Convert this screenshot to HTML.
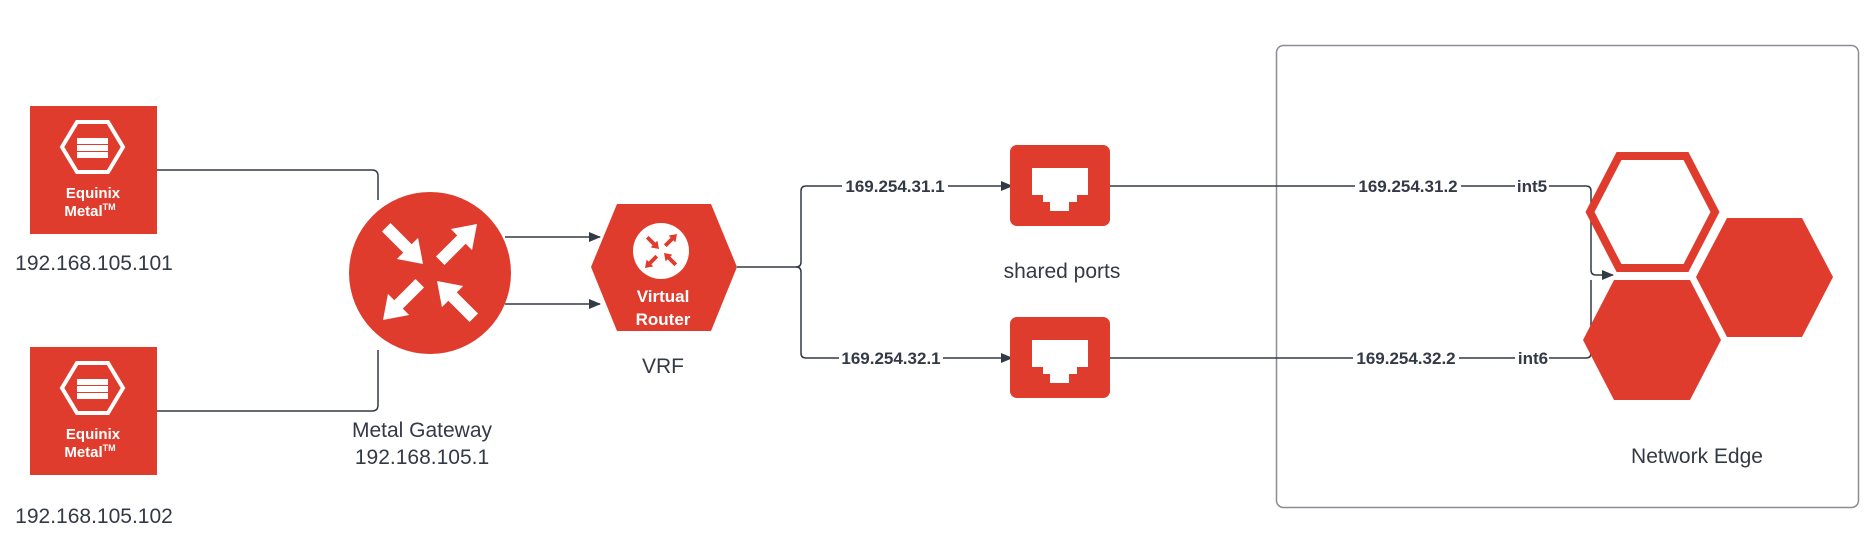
<!DOCTYPE html>
<html><head><meta charset="utf-8"><style>
html,body{margin:0;padding:0;background:#fff;}
svg{display:block;}
text{font-family:"Liberation Sans",Arial,sans-serif;}
</style></head><body>
<svg width="1871" height="550" viewBox="0 0 1871 550" xmlns="http://www.w3.org/2000/svg">
<defs>
<marker id="ah" markerWidth="12" markerHeight="10" refX="11" refY="5" orient="auto" markerUnits="userSpaceOnUse">
<path d="M0,0 L12,5 L0,10 Z" fill="#333a45"/>
</marker>
<g id="arr"><polygon points="-52,-6 -22,-6 -22,-15 0,0 -22,15 -22,6 -52,6" fill="#fff"/></g>
<g id="port">
<rect x="0" y="0" width="100" height="81" rx="7" fill="#e03c2d"/>
<path d="M22,23 H78 V50 H67 V57 H59 V66 H40 V57 H33 V50 H22 Z" fill="#fff"/>
</g>
<g id="eq">
<rect x="0" y="0" width="127" height="128" fill="#e03c2d"/>
<polygon points="32,41 47,16 78,16 93,41 78,66 47,66" fill="none" stroke="#fff" stroke-width="4"/>
<rect x="47" y="32" width="31" height="6" fill="#fff"/>
<rect x="47" y="39" width="31" height="6" fill="#fff"/>
<rect x="47" y="46" width="31" height="6" fill="#fff"/>
<text x="63" y="92" fill="#fff" font-size="15" font-weight="bold" text-anchor="middle">Equinix</text>
<text x="60" y="110" fill="#fff" font-size="15" font-weight="bold" text-anchor="middle">Metal<tspan font-size="9" dy="-6">TM</tspan></text>
</g>
</defs>

<rect x="1276.5" y="45.5" width="582" height="462" rx="7" fill="none" stroke="#8a8d92" stroke-width="1.5"/>

<g fill="none" stroke="#333a45" stroke-width="1.5">
<path d="M157,170 H372 Q378,170 378,176 V200"/>
<path d="M157,411 H372 Q378,411 378,405 V350"/>
<path d="M505,237 H600" marker-end="url(#ah)"/>
<path d="M505,304 H600" marker-end="url(#ah)"/>
<path d="M737,267 H796 Q801,267 801,262 V191 Q801,186 806,186 H1012" marker-end="url(#ah)"/>
<path d="M796,267 Q801,267 801,272 V353 Q801,358 806,358 H1012" marker-end="url(#ah)"/>
<path d="M1109,186 H1586 Q1591,186 1591,191 V270 Q1591,275 1596,275 H1613" marker-end="url(#ah)"/>
<path d="M1109,358 H1586 Q1591,358 1591,353 V280"/>
</g>

<g font-size="17" font-weight="bold" fill="#333a45" text-anchor="middle">
<rect x="842" y="176" width="106" height="20" fill="#fff"/>
<text x="895" y="192">169.254.31.1</text>
<rect x="839" y="348" width="104" height="20" fill="#fff"/>
<text x="891" y="364">169.254.32.1</text>
<rect x="1355" y="176" width="106" height="20" fill="#fff"/>
<text x="1408" y="192">169.254.31.2</text>
<rect x="1353" y="348" width="106" height="20" fill="#fff"/>
<text x="1406" y="364">169.254.32.2</text>
<rect x="1515" y="176" width="34" height="20" fill="#fff"/>
<text x="1532" y="192">int5</text>
<rect x="1515" y="348" width="34" height="20" fill="#fff"/>
<text x="1533" y="364">int6</text>
</g>

<use href="#eq" x="30" y="106"/>
<use href="#eq" x="30" y="347"/>
<g font-size="21" fill="#333a45" text-anchor="middle">
<text x="94" y="270">192.168.105.101</text>
<text x="94" y="523">192.168.105.102</text>
<text x="422" y="437">Metal Gateway</text>
<text x="422" y="464">192.168.105.1</text>
<text x="663" y="373">VRF</text>
<text x="1062" y="278">shared ports</text>
<text x="1697" y="463">Network Edge</text>
</g>

<circle cx="430" cy="273" r="81" fill="#e03c2d"/>
<use href="#arr" transform="translate(423,264) rotate(45)"/>
<use href="#arr" transform="translate(477,224) rotate(-45)"/>
<use href="#arr" transform="translate(383,320) rotate(135)"/>
<use href="#arr" transform="translate(437,281) rotate(-135)"/>

<polygon points="591,267 617,204 711,204 737,267 711,331 617,331" fill="#e03c2d"/>
<circle cx="661" cy="251" r="28" fill="#fff"/>
<g fill="#e03c2d">
<polygon points="-52,-6 -22,-6 -22,-15 0,0 -22,15 -22,6 -52,6" transform="translate(659,249) scale(0.32) rotate(45)"/>
<polygon points="-52,-6 -22,-6 -22,-15 0,0 -22,15 -22,6 -52,6" transform="translate(677,234) scale(0.32) rotate(-45)"/>
<polygon points="-52,-6 -22,-6 -22,-15 0,0 -22,15 -22,6 -52,6" transform="translate(645,268) scale(0.32) rotate(135)"/>
<polygon points="-52,-6 -22,-6 -22,-15 0,0 -22,15 -22,6 -52,6" transform="translate(664,253) scale(0.32) rotate(-135)"/>
</g>
<text x="663" y="302" font-size="17" font-weight="bold" fill="#fff" text-anchor="middle">Virtual</text>
<text x="663" y="325" font-size="17" font-weight="bold" fill="#fff" text-anchor="middle">Router</text>

<use href="#port" x="1010" y="145"/>
<use href="#port" x="1010" y="317"/>

<polygon points="1590,212 1619,156 1686,156 1715,212 1686,268 1619,268" fill="none" stroke="#e03c2d" stroke-width="8"/>
<polygon points="1583,340 1614,280 1690,280 1721,340 1690,400 1614,400" fill="#e03c2d"/>
<polygon points="1696,277 1727,218 1802,218 1833,277 1802,337 1727,337" fill="#e03c2d"/>
</svg>
</body></html>
